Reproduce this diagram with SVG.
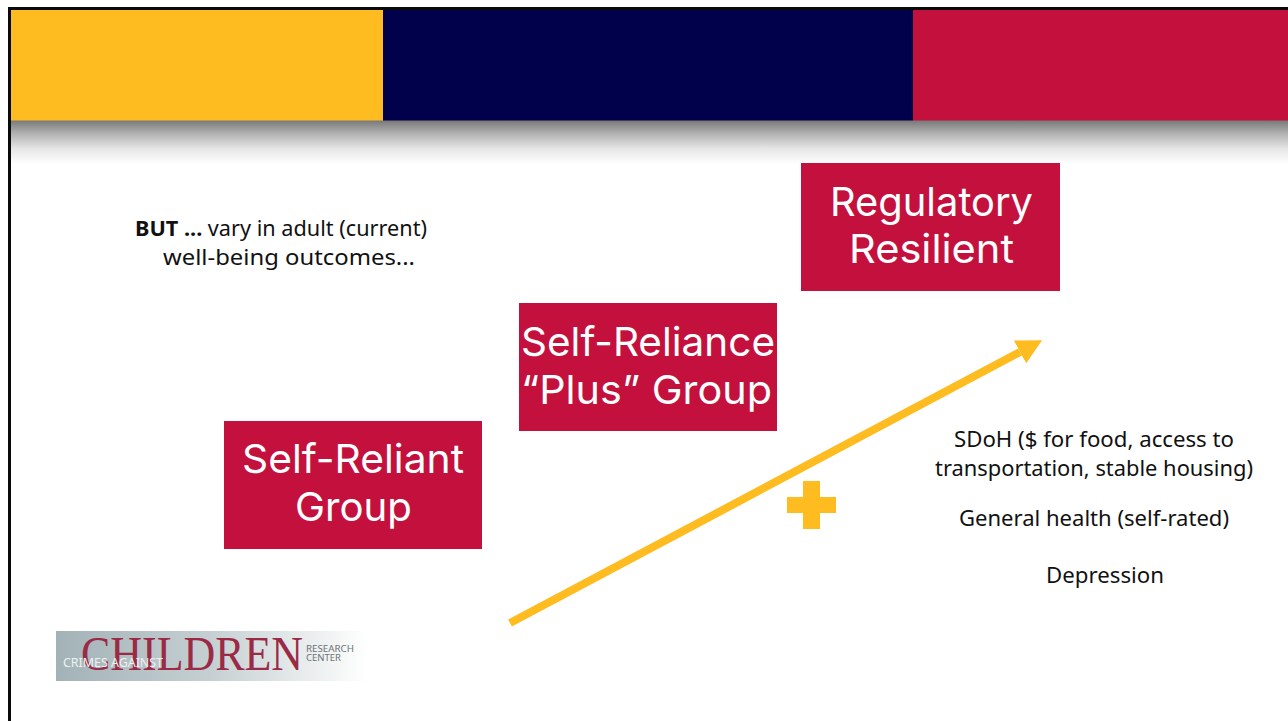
<svg xmlns="http://www.w3.org/2000/svg" width="1288" height="721" viewBox="0 0 1288 721">
<defs>
<linearGradient id="shadow" x1="0" y1="0" x2="0" y2="1"><stop offset="0" stop-color="#777777"/><stop offset=".3" stop-color="#b0b0b0"/><stop offset=".65" stop-color="#e6e6e6"/><stop offset="1" stop-color="#ffffff"/></linearGradient>
<linearGradient id="logo" x1="0" y1="0" x2="1" y2="0"><stop offset="0" stop-color="#a2b2b7"/><stop offset=".5" stop-color="#c6d0d2"/><stop offset=".85" stop-color="#eef1f1"/><stop offset="1" stop-color="#ffffff"/></linearGradient>
<marker id="head" markerUnits="userSpaceOnUse" markerWidth="26" markerHeight="27" refX="0" refY="13" orient="auto"><path d="M0 0L25 13L0 26Z" fill="#febc20"/></marker>
</defs>
<style>
.box{fill:#c4103c}
.big{font:40px "Inter","Noto Sans",sans-serif;fill:#fff;text-anchor:middle}
.t{font:22px "Noto Sans",sans-serif;fill:#111;text-anchor:middle}
</style>
<rect width="1288" height="721" fill="#fff"/>
<rect x="10" y="120" width="1278" height="44" fill="url(#shadow)"/>
<g id="band">
<rect x="10" y="9" width="373" height="111.500" fill="#febc20"/>
<rect x="383" y="9" width="530" height="111.500" fill="#00004b"/>
<rect x="913" y="9" width="375" height="111.500" fill="#c4103c"/>
</g>
<path d="M9.500 721V8.500H1288" fill="none" stroke="#0a0a0a" stroke-width="3"/>
<g id="connectors">
<line x1="510" y1="623" x2="1020" y2="352" stroke="#febc20" stroke-width="8" marker-end="url(#head)"/>
</g>
<g id="plus"><path d="M803 481H820V497H836V513H820V529H803V513H787V497H803Z" fill="#febc20"/></g>
<g id="note"><text class="t" x="281" y="236" textLength="292" lengthAdjust="spacingAndGlyphs"><tspan font-weight="700">BUT ...</tspan> vary in adult (current)</text><text class="t" x="289" y="265" textLength="252" lengthAdjust="spacingAndGlyphs">well-being outcomes...</text></g>
<g id="regulatory"><rect class="box" x="801" y="163" width="259" height="128"/><text class="big" x="931.500" y="216" textLength="203" lengthAdjust="spacingAndGlyphs">Regulatory</text><text class="big" x="931.500" y="263" textLength="165" lengthAdjust="spacingAndGlyphs">Resilient</text></g>
<g id="plusgroup"><rect class="box" x="519" y="303" width="258" height="128"/><text class="big" x="648" y="356" textLength="254" lengthAdjust="spacingAndGlyphs">Self-Reliance</text><text class="big" x="646.500" y="404" textLength="251" lengthAdjust="spacingAndGlyphs">“Plus” Group</text></g>
<g id="selfreliant"><rect class="box" x="224" y="421" width="258" height="128"/><text class="big" x="353" y="473" textLength="222" lengthAdjust="spacingAndGlyphs">Self-Reliant</text><text class="big" x="353.500" y="521" textLength="117" lengthAdjust="spacingAndGlyphs">Group</text></g>
<g id="outcomes"><text class="t" x="1094" y="447" textLength="280" lengthAdjust="spacingAndGlyphs">SDoH ($ for food, access to</text><text class="t" x="1094" y="476" textLength="318" lengthAdjust="spacingAndGlyphs">transportation, stable housing)</text><text class="t" x="1094" y="526" textLength="270" lengthAdjust="spacingAndGlyphs">General health (self-rated)</text><text class="t" x="1105" y="583" textLength="118" lengthAdjust="spacingAndGlyphs">Depression</text></g>
<g id="logo-mark"><rect x="56" y="631" width="312" height="50" fill="url(#logo)"/>
<text x="81" y="670" font-family="Liberation Serif,serif" font-size="48" fill="#9a2a45" textLength="222" lengthAdjust="spacingAndGlyphs">CHILDREN</text>
<text x="63" y="667" font-family="Noto Sans,sans-serif" font-size="12" fill="#eef1f1" textLength="100" lengthAdjust="spacingAndGlyphs">CRIMES  AGAINST</text>
<text x="306" y="652" font-family="Noto Sans,sans-serif" font-size="9" fill="#6b7376" textLength="48" lengthAdjust="spacingAndGlyphs">RESEARCH</text>
<text x="306" y="661" font-family="Noto Sans,sans-serif" font-size="9" fill="#6b7376" textLength="35" lengthAdjust="spacingAndGlyphs">CENTER</text></g>
</svg>
